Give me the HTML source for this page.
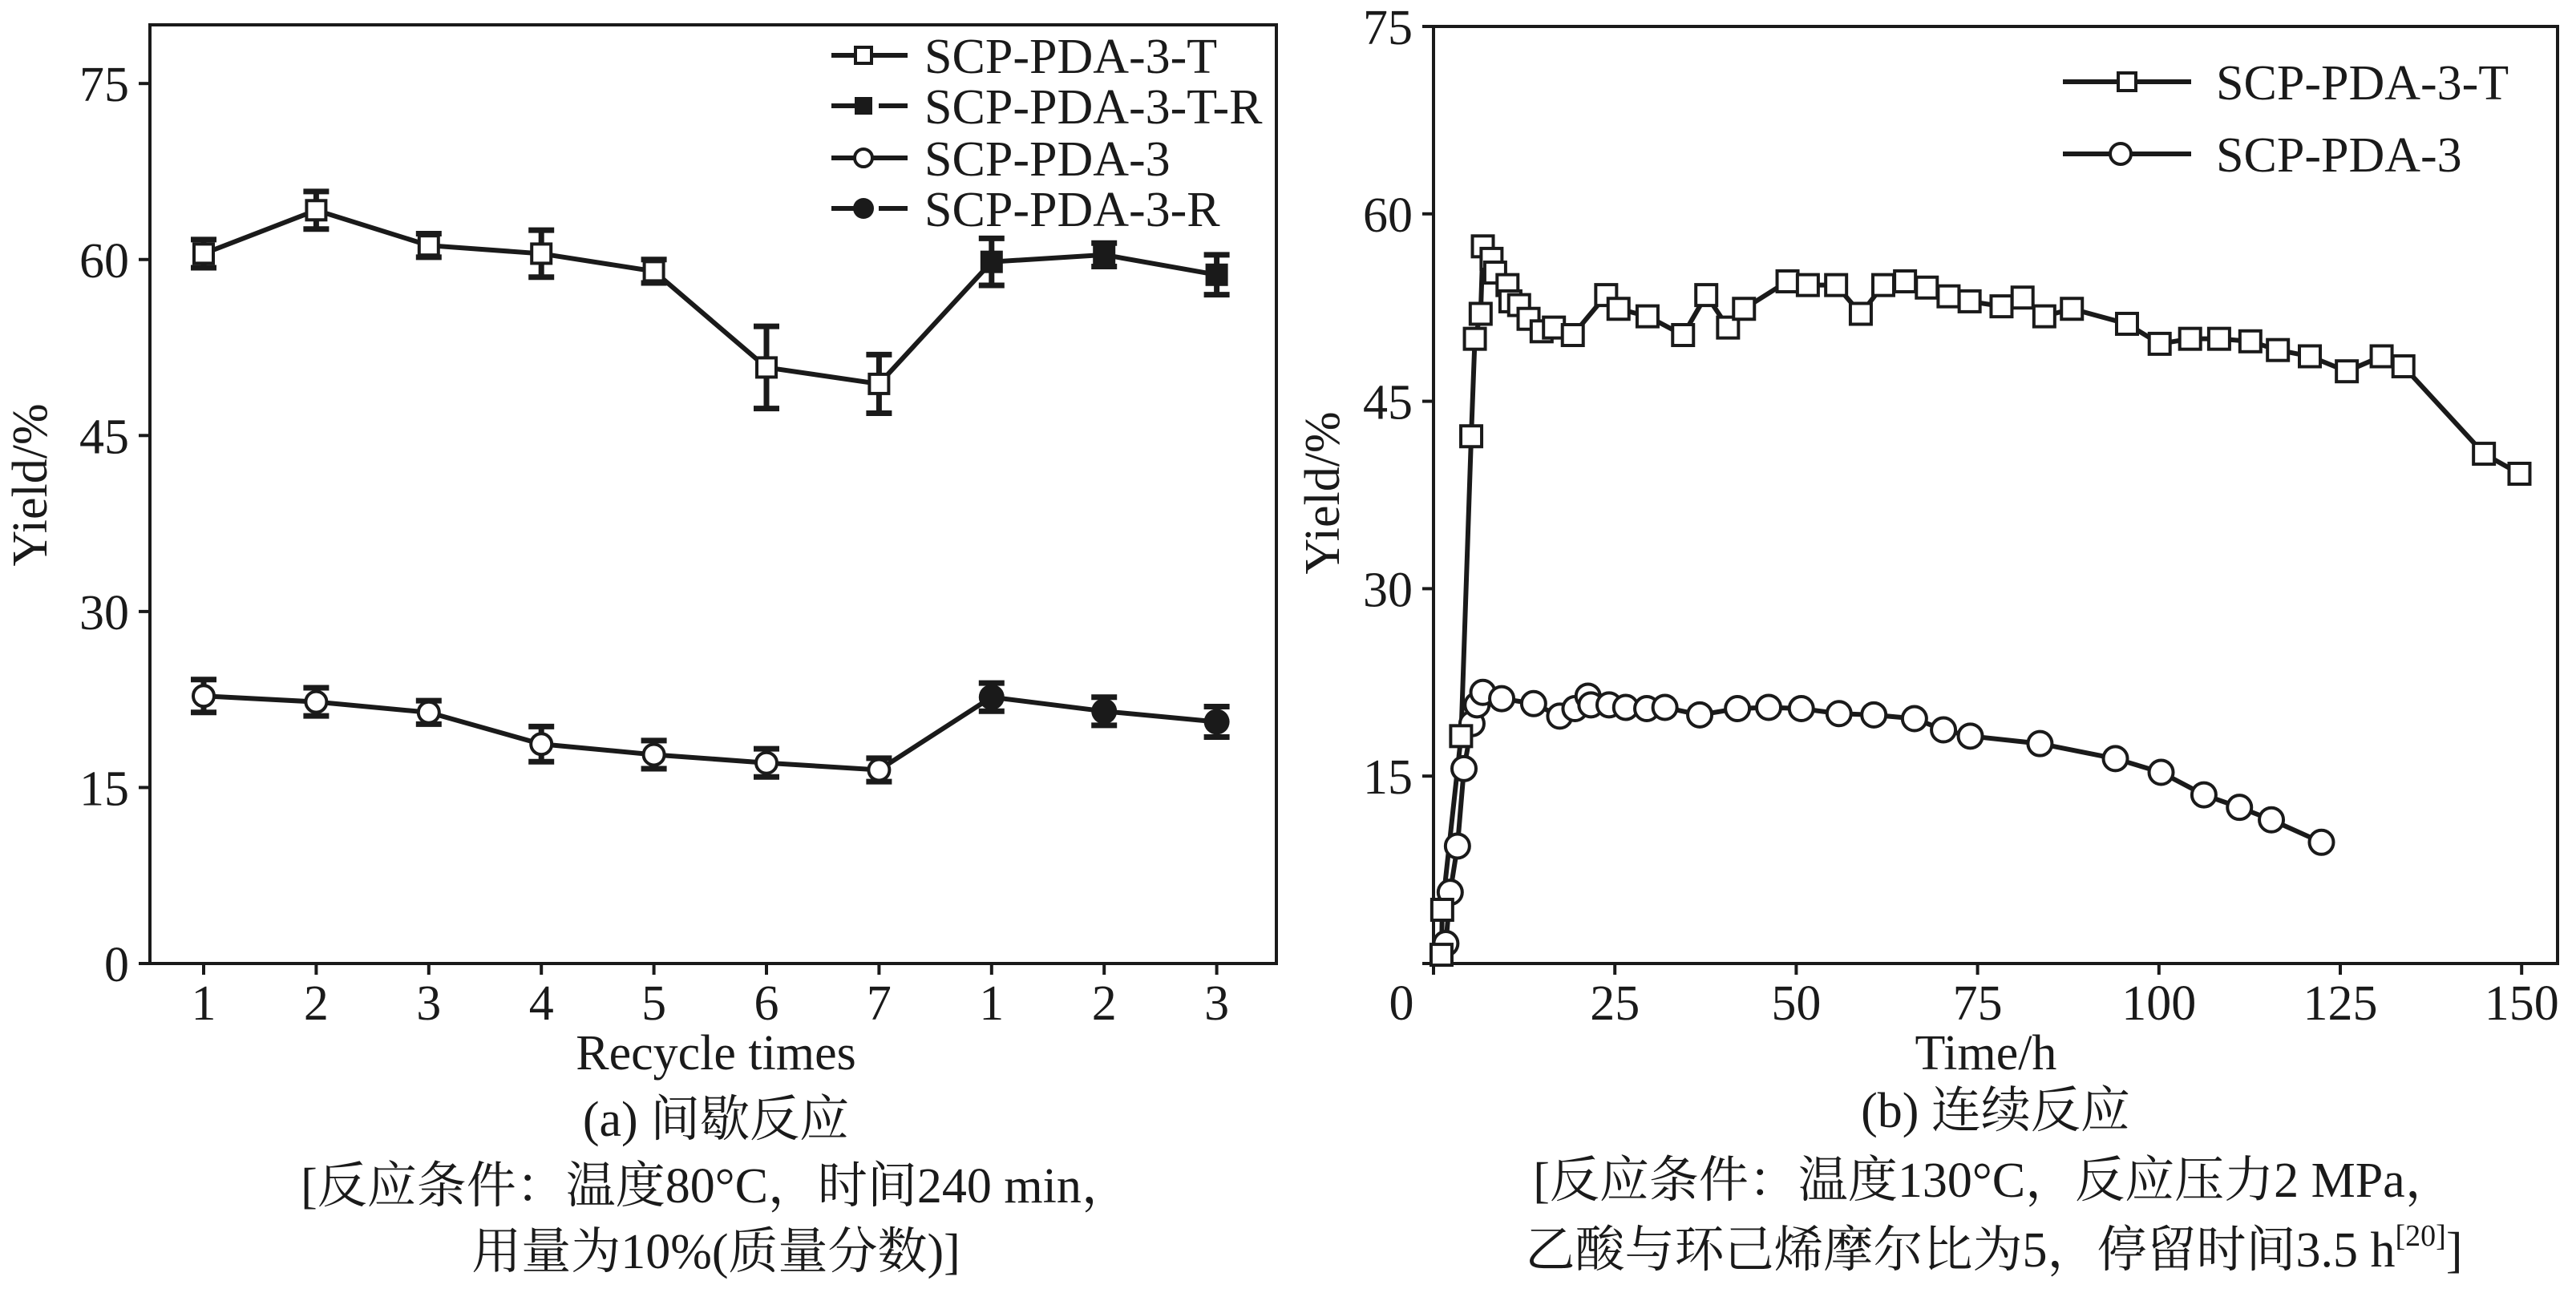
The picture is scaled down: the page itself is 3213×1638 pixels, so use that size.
<!DOCTYPE html>
<html><head><meta charset="utf-8"><style>
html,body{margin:0;padding:0;background:#fff}
svg{display:block}
text{font-family:"Liberation Serif","Noto Serif CJK SC","Noto Sans CJK SC",serif;fill:#1a1a1a}
</style></head><body>
<svg id="fig" width="3213" height="1638" viewBox="0 0 3213 1638" xmlns="http://www.w3.org/2000/svg">
<g id="pa"></g>
<g id="pb"></g>
</svg>
<script>
// ---- Panel (a) data ----
const aCats = ["1","2","3","4","5","6","7","1","2","3"];
const aT = [60.5,64.2,61.2,60.5,59.0,50.8,49.4];
const aTerr = [1.2,1.6,1.0,2.0,1.0,3.5,2.5];
const aTR = [59.8,60.4,58.7];
const aTRerr = [2.0,1.0,1.7];
const aC = [22.8,22.3,21.4,18.7,17.8,17.1,16.5];
const aCerr = [1.4,1.2,1.0,1.5,1.2,1.2,1.0];
const aCR = [22.7,21.5,20.6];
const aCRerr = [1.2,1.2,1.3];
const yTicks = [0,15,30,45,60,75];
// ---- Panel (b) data ----
const bTx = [1.1,1.2,3.8,5.2,5.7,6.5,6.8,8,8.5,10.2,10.6,11.8,13.1,14.9,16.6,19.2,23.8,25.5,29.5,34.4,37.6,40.6,42.8,48.8,51.6,55.5,58.9,62,65,68,71,73.9,78.3,81.2,84.2,88,95.6,100.1,104.3,108.3,112.6,116.4,120.8,125.9,130.7,133.7,144.8,149.7];
const bTy = [0.7,4.3,18.2,42.2,50,52,57.4,56.4,55.3,54.3,53,52.7,51.6,50.6,50.9,50.3,53.5,52.4,51.8,50.3,53.5,50.9,52.4,54.6,54.3,54.3,52,54.3,54.6,54.1,53.4,53,52.6,53.3,51.8,52.4,51.2,49.6,50,50,49.8,49.1,48.6,47.4,48.6,47.8,40.8,39.2];
const bCx = [1.7,2.3,3.3,4.2,5.3,6,6.8,9.4,13.8,17.4,19.5,21.3,21.7,24.2,26.5,29.4,31.9,36.7,41.9,46.2,50.7,55.9,60.7,66.3,70.3,74,83.6,94,100.3,106.2,111.1,115.5,122.4];
const bCy = [1.6,5.7,9.4,15.6,19.2,20.7,21.7,21.2,20.8,19.8,20.4,21.4,20.7,20.7,20.5,20.4,20.5,19.9,20.4,20.5,20.4,20,19.9,19.6,18.7,18.2,17.6,16.4,15.3,13.5,12.5,11.5,9.7];
const bXTicks = [0,25,50,75,100,125,150];

const NS="http://www.w3.org/2000/svg";
const C="#1a1a1a";
const FS=62, CFS=62;
function mk(parent,tag,attrs,txt){const e=document.createElementNS(NS,tag);for(const k in attrs)e.setAttribute(k,attrs[k]);if(txt!==undefined)e.textContent=txt;parent.appendChild(e);return e;}

// ===== Panel A =====
const pa=document.getElementById('pa');
const aL=187,aR=1592,aTop=31,aBot=1202;
const ay=v=>aBot-(v/80)*(aBot-aTop);
const ax=i=>254+i*140.4;
let e=mk(pa,'rect',{x:aL,y:aTop,width:aR-aL,height:aBot-aTop,fill:'none',stroke:C,'stroke-width':4});


yTicks.forEach(v=>{
  let t=mk(pa,'line',{x1:aL-14,x2:aL,y1:ay(v),y2:ay(v),stroke:C,'stroke-width':4});
  
  
  let l=mk(pa,'text',{x:aL-26,y:ay(v)+22,'font-size':FS,'text-anchor':'end'},String(v));
  
  
});
aCats.forEach((c,i)=>{
  let t=mk(pa,'line',{x1:ax(i),x2:ax(i),y1:aBot,y2:aBot+14,stroke:C,'stroke-width':4});
  
  
  let l=mk(pa,'text',{x:ax(i),y:aBot+70,'font-size':FS,'text-anchor':'middle'},c);
  
  
});
function errbar(g,x,v,err,name){
  const y1=ay(v+err),y2=ay(v-err);
  let gg=mk(g,'g',{});
  
  
  mk(gg,'line',{x1:x,x2:x,y1:y1,y2:y2,stroke:C,'stroke-width':7});
  mk(gg,'line',{x1:x-16,x2:x+16,y1:y1,y2:y1,stroke:C,'stroke-width':7});
  mk(gg,'line',{x1:x-16,x2:x+16,y1:y2,y2:y2,stroke:C,'stroke-width':7});
}
const tAll=aT.concat(aTR), cAll=aC.concat(aCR);
let pl=mk(pa,'polyline',{points:tAll.map((v,i)=>ax(i)+','+ay(v)).join(' '),fill:'none',stroke:C,'stroke-width':6});


pl=mk(pa,'polyline',{points:cAll.map((v,i)=>ax(i)+','+ay(v)).join(' '),fill:'none',stroke:C,'stroke-width':6});


aT.forEach((v,i)=>{errbar(pa,ax(i),v,aTerr[i],'errorbar-t');
  let m=mk(pa,'rect',{x:ax(i)-12,y:ay(v)-12,width:24,height:24,fill:'#fff',stroke:C,'stroke-width':4});
  
  });
aTR.forEach((v,i)=>{const x=ax(i+7);errbar(pa,x,v,aTRerr[i],'errorbar-t-r');
  let m=mk(pa,'rect',{x:x-14,y:ay(v)-14,width:28,height:28,fill:C});
  
  });
aC.forEach((v,i)=>{errbar(pa,ax(i),v,aCerr[i],'errorbar-c');
  let m=mk(pa,'circle',{cx:ax(i),cy:ay(v),r:13,fill:'#fff',stroke:C,'stroke-width':4});
  
  });
aCR.forEach((v,i)=>{const x=ax(i+7);errbar(pa,x,v,aCRerr[i],'errorbar-c-r');
  let m=mk(pa,'circle',{cx:x,cy:ay(v),r:16,fill:C});
  
  });
// legend a
const legA=mk(pa,'g',{});


[["SCP-PDA-3-T","osq",69],["SCP-PDA-3-T-R","fsq",132],["SCP-PDA-3","oc",197],["SCP-PDA-3-R","fc",260]].forEach(([lab,k,y])=>{
  const g=mk(legA,'g',{});
  
  
  if(k[0]==='o'){mk(g,'line',{x1:1037,x2:1132,y1:y,y2:y,stroke:C,'stroke-width':6});}
  else{mk(g,'line',{x1:1037,x2:1080,y1:y,y2:y,stroke:C,'stroke-width':6});mk(g,'line',{x1:1096,x2:1132,y1:y,y2:y,stroke:C,'stroke-width':6});}
  const cx=1077;
  if(k==='osq')mk(g,'rect',{x:cx-10,y:y-10,width:20,height:20,fill:'#fff',stroke:C,'stroke-width':4});
  if(k==='fsq')mk(g,'rect',{x:cx-11,y:y-11,width:22,height:22,fill:C});
  if(k==='oc')mk(g,'circle',{cx:cx,cy:y,r:11,fill:'#fff',stroke:C,'stroke-width':4});
  if(k==='fc')mk(g,'circle',{cx:cx,cy:y,r:13,fill:C});
  mk(g,'text',{x:1153,y:y+22,'font-size':FS},lab);
});
e=mk(pa,'text',{x:0,y:0,'font-size':FS,'text-anchor':'middle',transform:'translate(58,605) rotate(-90)'},'Yield/%');


e=mk(pa,'text',{x:893,y:1334,'font-size':FS,'text-anchor':'middle'},'Recycle times');


e=mk(pa,'text',{x:893,y:1417,'font-size':CFS,'text-anchor':'middle'},'(a) 间歇反应');


e=mk(pa,'text',{x:893,y:1500,'font-size':CFS,'text-anchor':'middle'},'[反应条件：温度80°C，时间240 min，');


e=mk(pa,'text',{x:893,y:1582,'font-size':CFS,'text-anchor':'middle'},'用量为10%(质量分数)]');



// ===== Panel B =====
const pb=document.getElementById('pb');
const bL=1788,bR=3190,bTop=33,bBot=1202;
const by=v=>bBot-(v/75)*(bBot-bTop);
const bx=v=>bL+(v/25)*226.2;
e=mk(pb,'rect',{x:bL,y:bTop,width:bR-bL,height:bBot-bTop,fill:'none',stroke:C,'stroke-width':4});


yTicks.forEach(v=>{
  let t=mk(pb,'line',{x1:bL-14,x2:bL,y1:by(v),y2:by(v),stroke:C,'stroke-width':4});
  
  
  if(v===0)return;
  let l=mk(pb,'text',{x:bL-26,y:by(v)+22,'font-size':FS,'text-anchor':'end'},String(v));
  
  
});
bXTicks.forEach(v=>{
  let t=mk(pb,'line',{x1:bx(v),x2:bx(v),y1:bBot,y2:bBot+14,stroke:C,'stroke-width':4});
  
  
  let l=mk(pb,'text',{x:v===0?bx(v)-40:bx(v),y:bBot+70,'font-size':FS,'text-anchor':'middle'},String(v));
  
  
});
pl=mk(pb,'polyline',{points:bTx.map((x,i)=>bx(x)+','+by(bTy[i])).join(' '),fill:'none',stroke:C,'stroke-width':6});


pl=mk(pb,'polyline',{points:bCx.map((x,i)=>bx(x)+','+by(bCy[i])).join(' '),fill:'none',stroke:C,'stroke-width':6});


bCx.forEach((x,i)=>{let m=mk(pb,'circle',{cx:bx(x),cy:by(bCy[i]),r:15,fill:'#fff',stroke:C,'stroke-width':4});
  
  });
bTx.forEach((x,i)=>{let m=mk(pb,'rect',{x:bx(x)-13,y:by(bTy[i])-13,width:26,height:26,fill:'#fff',stroke:C,'stroke-width':4});
  
  });
const legB=mk(pb,'g',{});


[["SCP-PDA-3-T","sq",102],["SCP-PDA-3","c",192]].forEach(([lab,k,y])=>{
  const g=mk(legB,'g',{});
  
  
  mk(g,'line',{x1:2573,x2:2733,y1:y,y2:y,stroke:C,'stroke-width':6});
  if(k==='sq')mk(g,'rect',{x:2653-11,y:y-11,width:22,height:22,fill:'#fff',stroke:C,'stroke-width':4});
  else mk(g,'circle',{cx:2645,cy:y,r:13,fill:'#fff',stroke:C,'stroke-width':4});
  mk(g,'text',{x:2764,y:y+22,'font-size':FS},lab);
});
e=mk(pb,'text',{x:0,y:0,'font-size':FS,'text-anchor':'middle',transform:'translate(1670,615) rotate(-90)'},'Yield/%');


e=mk(pb,'text',{x:2477,y:1334,'font-size':FS,'text-anchor':'middle'},'Time/h');


e=mk(pb,'text',{x:2489,y:1406,'font-size':CFS,'text-anchor':'middle'},'(b) 连续反应');


e=mk(pb,'text',{x:2487,y:1493,'font-size':CFS,'text-anchor':'middle'},'[反应条件：温度130°C，反应压力2 MPa，');


e=mk(pb,'text',{x:2487,y:1580,'font-size':CFS,'text-anchor':'middle'});


e.appendChild(document.createTextNode('乙酸与环己烯摩尔比为5，停留时间3.5 h'));
const sup=mk(e,'tspan',{'font-size':38,dy:-26},'[20]');
const cl=mk(e,'tspan',{dy:26},']');
</script>
</body></html>
